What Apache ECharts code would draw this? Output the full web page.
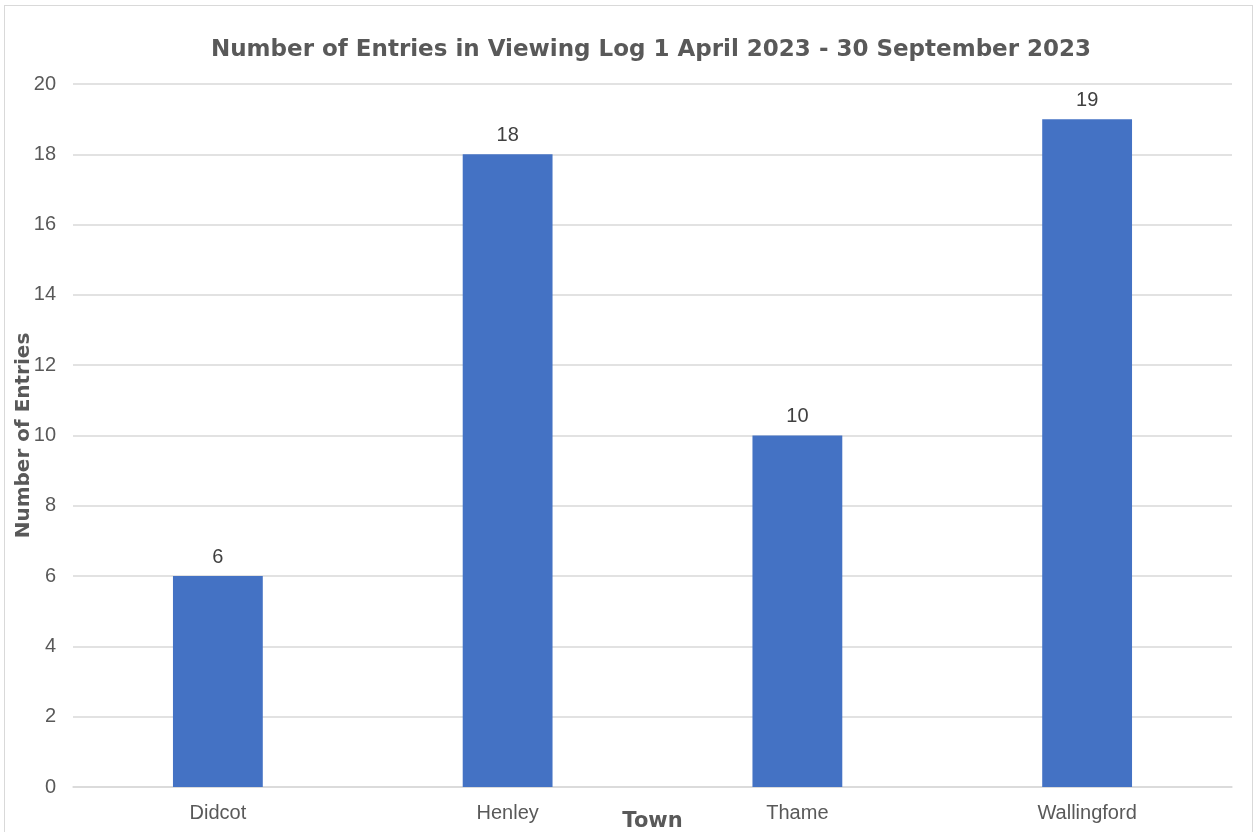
<!DOCTYPE html>
<html><head><meta charset="utf-8">
<script src="https://cdn.jsdelivr.net/npm/echarts@6/dist/echarts.min.js"></script>
<style>
html,body{margin:0;padding:0;background:#fff;overflow:hidden}
#frame{position:absolute;left:4px;top:5px;width:1249px;height:840px;border:1px solid #d9d9d9;box-sizing:border-box}
#c{position:absolute;left:0;top:0;width:1257px;height:832px}
</style></head>
<body>
<div id="frame"></div>
<div id="c"></div>
<script>
const categories = ["Didcot", "Henley", "Thame", "Wallingford"];
const entries = [6, 18, 10, 19];
const titleText = "Number of Entries in Viewing Log 1 April 2023 - 30 September 2023";

const chart = echarts.init(document.getElementById('c'));
chart.setOption({
  animation: false,
  title: {
    text: titleText, left: 206, top: 34,
    textStyle: { fontFamily: 'DejaVu Sans', fontWeight: 'bold', fontSize: 23, color: '#595959' }
  },
  grid: { left: 73, right: 25, top: 84, bottom: 45, containLabel: false, outerBoundsMode: 'none' },
  xAxis: {
    type: 'category', data: categories,
    name: 'Town', nameLocation: 'middle', nameGap: 24, nameMoveOverlap: false,
    nameTextStyle: { fontFamily: 'DejaVu Sans', fontWeight: 'bold', fontSize: 21, color: '#595959' },
    axisLine: { lineStyle: { color: '#d9d9d9', width: 1.5 } },
    axisTick: { show: false },
    axisLabel: { fontFamily: 'Liberation Sans', fontSize: 20, color: '#595959', margin: 16 }
  },
  yAxis: {
    type: 'value', min: 0, max: 20, interval: 2,
    name: 'Number of Entries', nameLocation: 'middle', nameGap: 39, nameMoveOverlap: false,
    nameTextStyle: { fontFamily: 'DejaVu Sans', fontWeight: 'bold', fontSize: 20, color: '#595959' },
    axisLine: { show: false }, axisTick: { show: false },
    axisLabel: { fontFamily: 'Liberation Sans', fontSize: 20, color: '#595959', margin: 17 },
    splitLine: { lineStyle: { color: '#d9d9d9', width: 1.5 } }
  },
  series: [{
    type: 'bar', data: entries, barWidth: '31%',
    itemStyle: { color: '#4472C4' },
    label: { show: true, position: 'top', distance: 9, fontFamily: 'Liberation Sans', fontSize: 20, color: '#404040' }
  }]
});
</script>
</body></html>
